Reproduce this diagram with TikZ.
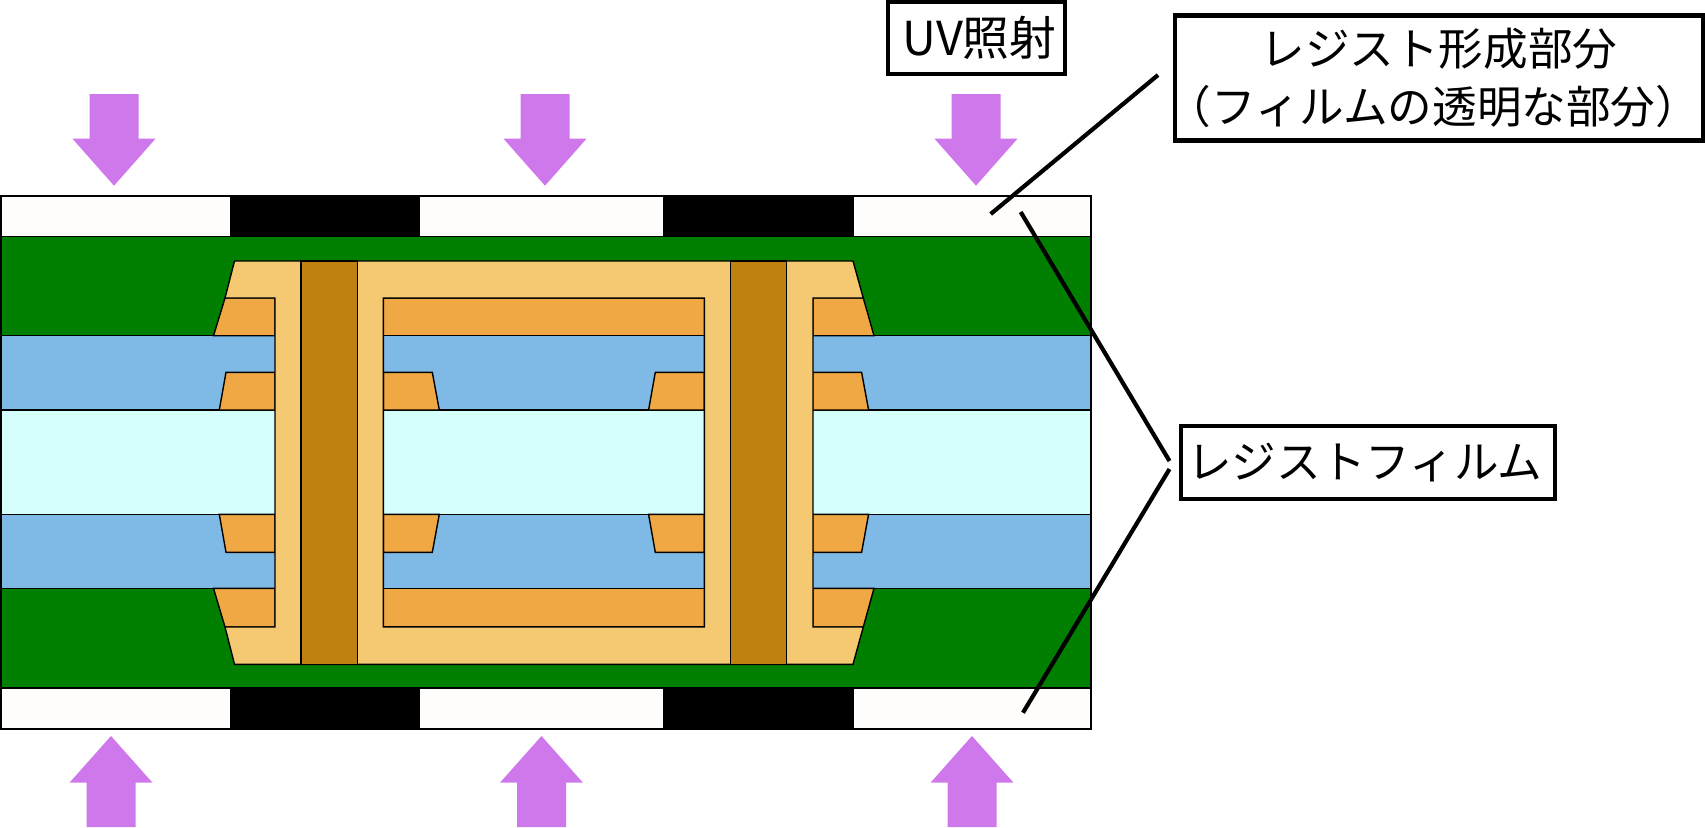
\documentclass[tikz,border=0pt]{standalone}
\usepackage{fontspec}
\newfontfamily\cjk{Noto Sans CJK JP}
\definecolor{maskwhite}{HTML}{FFFDFB}
\definecolor{resistgreen}{HTML}{007F00}
\definecolor{prepregblue}{HTML}{7FB9E6}
\definecolor{corecyan}{HTML}{D4FFFA}
\definecolor{padorange}{HTML}{F0A845}
\definecolor{platetan}{HTML}{F4C972}
\definecolor{viabrown}{HTML}{BF8210}
\definecolor{uvpurple}{HTML}{CF78EC}
\tikzset{
    layer/.style={draw=black, line width=0.7pt},
    uvarrow/.style={fill=uvpurple},
    labelbox/.style={draw=black, line width=2.2pt, fill=white, inner sep=0pt, align=center, font=\cjk\fontsize{22.3}{29}\selectfont},
    leader/.style={draw=black, line width=2.1pt}
}

\begin{document}
\begin{tikzpicture}[x=0.5pt, y=-0.5pt]
    \useasboundingbox (0,0) rectangle (1705,827);

    % Top film - clear with two black parts
    \draw[layer, fill=maskwhite] (1,196) rectangle (1091,236.7);
    \draw[layer, fill=black] (231,196) rectangle (419.5,236.7);
    \draw[layer, fill=black] (664,195.5) rectangle (853.5,236.7);

    % Bottom film
    \draw[layer, fill=maskwhite] (1,688) rectangle (1091,729);
    \draw[layer, fill=black] (231,688) rectangle (419.5,729);
    \draw[layer, fill=black] (664,688) rectangle (853.5,729);

    % Board layers
    \draw[layer, fill=resistgreen] (1,236.7) rectangle (1091,688);
    \draw[layer, fill=prepregblue] (1,335.7) rectangle (1091,588.3);
    \draw[layer, fill=corecyan] (1,410) rectangle (1091,514.3);

    % Outer pads
    \draw[layer, fill=padorange] (225,298) -- (275,298) -- (275,335.7) -- (213.5,335.7) -- cycle;
    \draw[layer, fill=padorange] (383.3,298) rectangle (704.3,335.7);
    \draw[layer, fill=padorange] (813,298) -- (863.3,298) -- (874,335.7) -- (813,335.7) -- cycle;
    \draw[layer, fill=padorange] (213.5,588.3) -- (275,588.3) -- (275,627) -- (225,627) -- cycle;
    \draw[layer, fill=padorange] (383.3,588.3) rectangle (704.3,627);
    \draw[layer, fill=padorange] (813,588.3) -- (874,588.3) -- (863.3,627) -- (813,627) -- cycle;

    % Left via - inner pads
    \begin{scope}[shift={(0,0)}]
        \draw[layer, fill=padorange] (226,372.3) -- (275,372.3) -- (275,410) -- (219.3,410) -- cycle;
        \draw[layer, fill=padorange] (383.3,372.3) -- (432.3,372.3) -- (439.3,410) -- (383.3,410) -- cycle;
        \draw[layer, fill=padorange] (219.3,514.3) -- (275,514.3) -- (275,552.3) -- (226,552.3) -- cycle;
        \draw[layer, fill=padorange] (383.3,514.3) -- (439.3,514.3) -- (432.3,552.3) -- (383.3,552.3) -- cycle;
    \end{scope}

    % Right via - inner pads
    \begin{scope}[shift={(429.3,0)}]
        \draw[layer, fill=padorange] (226,372.3) -- (275,372.3) -- (275,410) -- (219.3,410) -- cycle;
        \draw[layer, fill=padorange] (383.3,372.3) -- (432.3,372.3) -- (439.3,410) -- (383.3,410) -- cycle;
        \draw[layer, fill=padorange] (219.3,514.3) -- (275,514.3) -- (275,552.3) -- (226,552.3) -- cycle;
        \draw[layer, fill=padorange] (383.3,514.3) -- (439.3,514.3) -- (432.3,552.3) -- (383.3,552.3) -- cycle;
    \end{scope}

    % Plating with the window between the vias
    \draw[layer, fill=platetan, even odd rule] (234.5,261) -- (853,261) -- (863.3,298) -- (813,298) -- (813,627) -- (863.3,627)
        -- (853,664.3) -- (234.5,664.3) -- (225,627) -- (275,627) -- (275,298) -- (225,298) -- cycle
        (383.3,298) rectangle (704.3,627);

    % Via fill
    \draw[layer, fill=viabrown] (301,261) rectangle (357.7,664.3);
    \draw[layer, fill=viabrown] (730.3,261) rectangle (786.7,664.3);

    % UV arrows from above
    \begin{scope}[shift={(114,0)}]
        \fill[uvarrow] (-24.5,94) -- (24.5,94) -- (24.5,138.7) -- (41.5,138.7) -- (0,185.7) -- (-41.5,138.7) -- (-24.5,138.7) -- cycle;
    \end{scope}
    \begin{scope}[shift={(545,0)}]
        \fill[uvarrow] (-24.5,94) -- (24.5,94) -- (24.5,138.7) -- (41.5,138.7) -- (0,185.7) -- (-41.5,138.7) -- (-24.5,138.7) -- cycle;
    \end{scope}
    \begin{scope}[shift={(976,0)}]
        \fill[uvarrow] (-24.5,94) -- (24.5,94) -- (24.5,138.7) -- (41.5,138.7) -- (0,185.7) -- (-41.5,138.7) -- (-24.5,138.7) -- cycle;
    \end{scope}

    % UV arrows from below
    \begin{scope}[shift={(111,0)}]
        \fill[uvarrow] (-24.5,827) -- (24.5,827) -- (24.5,782.7) -- (41.5,782.7) -- (0,736) -- (-41.5,782.7) -- (-24.5,782.7) -- cycle;
    \end{scope}
    \begin{scope}[shift={(541.5,0)}]
        \fill[uvarrow] (-24.5,827) -- (24.5,827) -- (24.5,782.7) -- (41.5,782.7) -- (0,736) -- (-41.5,782.7) -- (-24.5,782.7) -- cycle;
    \end{scope}
    \begin{scope}[shift={(972,0)}]
        \fill[uvarrow] (-24.5,827) -- (24.5,827) -- (24.5,782.7) -- (41.5,782.7) -- (0,736) -- (-41.5,782.7) -- (-24.5,782.7) -- cycle;
    \end{scope}

    % Labels
    \node[labelbox, minimum width=88.5pt, minimum height=35.9pt, font=\cjk\fontsize{23.4}{29}\selectfont] (uvlabel) at (976.5,37.8) {\hspace*{3pt}UV照射};
    \node[labelbox, minimum width=263.9pt, minimum height=62.5pt] (openlabel) at (1438.8,78) {レジスト形成部分\\\makebox[255pt]{\hspace*{-5.4pt}（フィルムの透明な部分）}};
    \node[labelbox, minimum width=186.9pt, minimum height=36.4pt] (filmlabel) at (1367.9,462.3) {\makebox[175pt]{\hspace*{-3pt}レジストフィルム}};

    % Leaders
    \coordinate (openend) at (1158,75);
    \coordinate (opentip) at (990.7,214);
    \coordinate (filmend) at (1169.5,461);
    \coordinate (filmendlow) at (1169.5,469);
    \coordinate (toptip) at (1020.7,212);
    \coordinate (bottomtip) at (1023,712.7);
    \draw[leader] (openend) -- (opentip);
    \draw[leader] (filmend) -- (toptip);
    \draw[leader] (filmendlow) -- (bottomtip);
\end{tikzpicture}
\end{document}
